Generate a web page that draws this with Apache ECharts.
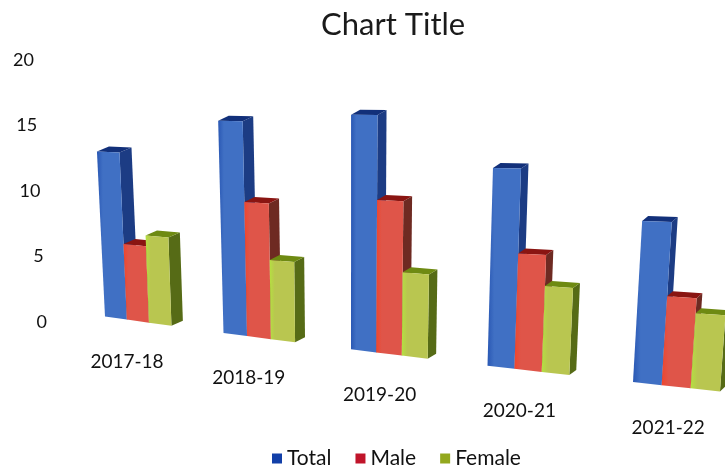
<!DOCTYPE html>
<html>
<head>
<meta charset="utf-8">
<style>html,body{margin:0;background:#fff}#chart{width:725px;height:470px;filter:blur(0.4px)}</style>
<script src="https://cdn.jsdelivr.net/npm/echarts@6/dist/echarts.min.js"></script>
</head>
<body>
<div id="chart"></div>
<script>
const categories = ["2017-18", "2018-19", "2019-20", "2020-21", "2021-22"];
const totalValues = [12.6, 16.2, 17.9, 15.1, 12.3];
const maleValues = [5.7, 10.1, 11.5, 8.7, 6.7];
const femaleValues = [6.5, 5.9, 6.2, 6.4, 5.6];
const tickLabels = [0, 5, 10, 15, 20];

const FONT = "Lato";
const echart = echarts.init(document.getElementById("chart"));

// fake 3d: the flat grid position is pushed through this perspective
const BAR_STEP = 0.19;
function project(t, y, zeroY) {
  const bx = 105 + 114 * t + 4.5 * t * t;
  const h = zeroY - y;
  const group = Math.floor(t + 0.001);
  // baseline slopes down, the slope flattens towards the top of a bar
  const slope = 16.4 * group + 16.4 * (t - group) * Math.max(0, 1 - h / 250);
  return [bx + (bx - 349) * h * 0.0002, y - 5.5 + slope];
}

function barSeries(name, values, slot, legendColor, c) {
  return {
    name: name,
    type: "custom",
    data: values.map((v, i) => [i, v]),
    itemStyle: { color: legendColor },
    renderItem: function (params, api) {
      const i = api.value(0);
      const y = api.coord([i, api.value(1)])[1];
      const zeroY = api.coord([i, 0])[1];
      const t0 = i + slot * BAR_STEP;
      const t1 = t0 + BAR_STEP;
      const tl = project(t0, y, zeroY);
      const tr = project(t1, y, zeroY);
      const bl = project(t0, zeroY, zeroY);
      const br = project(t1, zeroY, zeroY);
      const dx = 12 - 1.5 * t0;
      const dy = -5;
      const back = (p) => [p[0] + dx, p[1] + dy];
      return {
        type: "group",
        children: [
          {
            type: "polygon",
            shape: { points: [tr, back(tr), back(br), br] },
            style: { fill: c.side },
          },
          {
            type: "polygon",
            shape: { points: [tl, tr, back(tr), back(tl)] },
            style: { fill: c.top },
          },
          {
            type: "polygon",
            shape: { points: [tl, tr, br, bl] },
            style: {
              fill: new echarts.graphic.LinearGradient(0, 0, 1, 0, [
                { offset: 0, color: c.edge },
                { offset: 0.2, color: c.front },
                { offset: 1, color: c.front },
              ]),
            },
          },
        ],
      };
    },
  };
}

const tickRich = {};
tickLabels.forEach((v) => {
  tickRich["t" + v] = { padding: [0, v * 0.65, 0, 0], fontFamily: FONT, fontSize: 18, color: "#111" };
});

const options = {
  animation: false,
  backgroundColor: "#fff",
  title: {
    text: "Chart Title",
    left: 316,
    top: 4,
    textStyle: { fontFamily: FONT, fontSize: 31, fontWeight: "normal", color: "#1a1a1a" },
  },
  legend: {
    data: ["Total", "Male", "Female"],
    left: 267,
    top: 443,
    icon: "rect",
    itemWidth: 10,
    itemHeight: 10,
    itemGap: 24,
    textStyle: { fontFamily: FONT, fontSize: 21, color: "#111" },
  },
  grid: { left: 50, right: 25, top: 60, bottom: 148 },
  xAxis: {
    type: "category",
    data: categories,
    axisLine: { show: false },
    axisTick: { show: false },
    axisLabel: { show: false },
  },
  yAxis: {
    type: "value",
    min: 0,
    max: 20,
    interval: 5,
    axisLine: { show: false },
    axisTick: { show: false },
    splitLine: { show: false },
    axisLabel: {
      margin: 3,
      formatter: (v) => "{t" + v + "|" + v + "}",
      rich: tickRich,
    },
  },
  series: [
    barSeries("Total", totalValues, 0, "#123fa8", { front: "#4070c4", edge: "#2a58b4", side: "#1c3c84", top: "#12307a" }),
    barSeries("Male", maleValues, 1, "#c0142a", { front: "#df5549", edge: "#f0452c", side: "#6e2a22", top: "#8a1512" }),
    barSeries("Female", femaleValues, 2, "#93a81e", { front: "#b9c650", edge: "#b4e040", side: "#566b16", top: "#6e8a12" }),
    {
      type: "custom",
      data: categories.map((c, i) => [i, 0]),
      renderItem: function (params, api) {
        const i = api.value(0);
        const zeroY = api.coord([i, 0])[1];
        const p = project(i + 0.2, zeroY, zeroY);
        return {
          type: "text",
          x: p[0] + i * 1.5 - 1,
          y: p[1] + 42,
          style: {
            text: categories[i],
            fontFamily: FONT,
            fontSize: 19,
            fill: "#111",
            align: "center",
            verticalAlign: "middle",
          },
        };
      },
    },
  ],
};
echart.setOption(options);
</script>
</body>
</html>
